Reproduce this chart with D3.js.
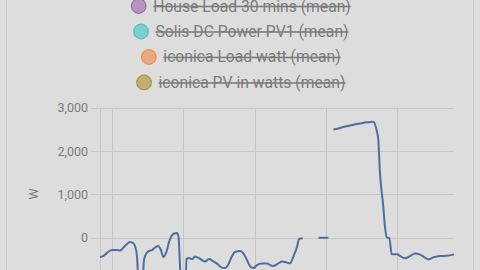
<!DOCTYPE html>
<html><head><meta charset="utf-8">
<script src="https://cdn.jsdelivr.net/npm/d3@7"></script>
<style>
html,body{margin:0;padding:0;background:#dddddd;}
svg{display:block;font-family:Roboto,"Noto Sans",sans-serif;}
</style></head>
<body><svg id="c" width="480" height="270"></svg>
<script>
// legend series
const seriesNames = ["House Load 30 mins (mean)","Solis DC Power PV1 (mean)","iconica Load watt (mean)","iconica PV in watts (mean)"];
const seriesFill = ["#b693c0","#7ccfcf","#e9ab7e","#c0b072"];
const seriesStroke = ["#9d6cae","#56c1c1","#ea8e4f","#a99845"];
// visible series: hours from first gridline, values in W (null = gap)
const hours = [-1.01,-0.76,-0.34,0,0.42,0.67,0.93,1.26,1.51,1.77,1.94,2.10,2.27,2.52,2.69,2.86,3.11,3.37,3.62,3.87,4.12,4.33,4.59,4.80,5.01,5.22,5.47,5.60,5.72,5.89,6.14,6.27,6.48,6.73,6.99,7.24,7.57,7.83,8.16,8.50,8.84,9.17,9.51,9.76,10.06,10.35,10.77,11.07,11.36,11.61,11.91,12.20,12.62,13.02,13.55,13.97,14.31,14.69,14.98,15.28,15.57,15.74,16.05,16.7,17.37,18.21,18.4,18.63,19.19,19.75,20.31,20.87,21.44,21.97,22.28,22.41,22.55,22.83,22.97,23.12,23.34,23.54,23.96,24.32,24.66,25.08,25.50,25.92,26.34,26.62,27.04,27.60,28.17,28.78];
const watts = [-449,-425,-332,-285,-285,-297,-239,-146,-100,-123,-193,-425,-1213,-1330,-517,-378,-309,-285,-227,-193,-285,-448,-320,-100,39,97,109,16,-633,-1445,-1445,-494,-471,-494,-436,-459,-517,-552,-494,-541,-599,-680,-703,-633,-448,-332,-309,-367,-517,-657,-703,-633,-599,-599,-657,-599,-552,-571,-594,-425,-216,-30,-14,null,0,0,null,2503,2538,2580,2615,2642,2668,2684,2475,2267,1501,719,255,9,-14,-385,-385,-436,-478,-425,-367,-390,-459,-501,-455,-425,-418,-385];
const xTicks = [0,6,12,18,24];
const yTicks = [0,1000,2000,3000];

const svg = d3.select("#c");
// card borders
svg.append("line").attr("x1",6.5).attr("x2",6.5).attr("y1",0).attr("y2",270).attr("stroke","#cbcbcb");
svg.append("line").attr("x1",473.5).attr("x2",473.5).attr("y1",0).attr("y2",270).attr("stroke","#cbcbcb");

// legend
const legendY = [6,31.5,57,82.5];
const lg = svg.append("g");
seriesNames.forEach((n,i)=>{
  const g = lg.append("g");
  const t = g.append("text").attr("y",legendY[i]).attr("dy","0.35em").attr("font-size",15.7)
    .attr("fill","#7b7b7b").attr("text-decoration","line-through").text(n);
  const w = t.node().getComputedTextLength();
  const total = 15 + 7 + w;
  const x0 = 241 - total/2;
  g.append("circle").attr("cx",x0+7.5).attr("cy",legendY[i]).attr("r",7.3)
    .attr("fill",seriesFill[i]).attr("stroke",seriesStroke[i]).attr("stroke-width",1.2);
  t.attr("x",x0+22);
});

const x = d3.scaleLinear().domain([-1.01,28.78]).range([100,454]);
const y = d3.scaleLinear().domain([0,3000]).range([237.7,108]);

const grid = svg.append("g");
grid.selectAll(".hg").data(yTicks).join("line")
  .attr("x1",91).attr("x2",454).attr("y1",d=>Math.round(y(d))+0.5).attr("y2",d=>Math.round(y(d))+0.5)
  .attr("stroke","#c6c6c6");
grid.selectAll(".vg").data(xTicks).join("line")
  .attr("x1",d=>Math.round(x(d))+0.5).attr("x2",d=>Math.round(x(d))+0.5).attr("y1",108).attr("y2",300)
  .attr("stroke","#c6c6c6");
grid.append("line").attr("x1",100.5).attr("x2",100.5).attr("y1",108).attr("y2",300).attr("stroke","#c6c6c6");

const fmt = d3.format(",");
svg.selectAll(".yl").data(yTicks).join("text")
  .attr("x",88).attr("y",d=>y(d)).attr("dy","0.35em").attr("text-anchor","end")
  .attr("font-size",12.5).attr("fill","#7b7b7b").text(d=>fmt(d));

svg.append("text").attr("transform","translate(38,194) rotate(-90)").attr("text-anchor","middle")
  .attr("font-size",12.5).attr("fill","#7b7b7b").text("W");

const data = hours.map((h,i)=>({h, v:watts[i]}));
const line = d3.line().defined(d=>d.v!==null).x(d=>x(d.h)).y(d=>y(d.v)).curve(d3.curveMonotoneX);
svg.append("path").datum(data).attr("d",line).attr("fill","none")
  .attr("stroke","#4a6f9c").attr("stroke-width",2).attr("stroke-linejoin","round");
</script></body></html>
